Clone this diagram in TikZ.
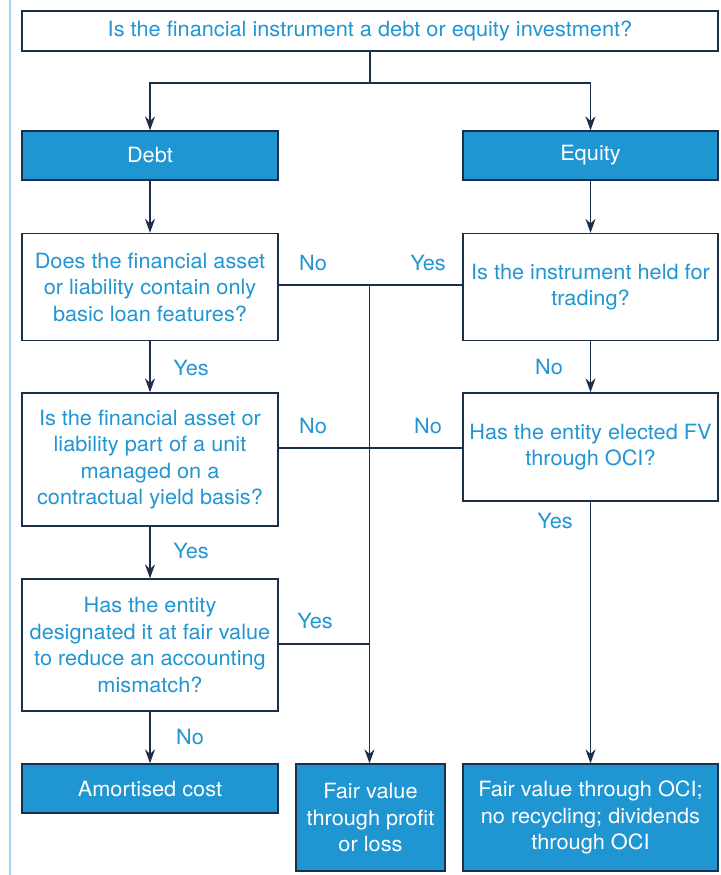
\documentclass[tikz,border=0pt]{standalone}
\usepackage{fontspec}
\setmainfont{TeX Gyre Heros}[FakeStretch=1.035]
\usetikzlibrary{arrows.meta}
\definecolor{navy}{HTML}{1B2F4D}
\definecolor{fillblue}{HTML}{1F95D2}
\definecolor{txtblue}{HTML}{2196D3}
\definecolor{sideblue}{HTML}{A6D2EE}
\tikzset{
  base/.style={draw=navy, line width=1.3pt, align=center, inner sep=2pt,
    font=\fontsize{21}{26.5}\selectfont},
  qbox/.style={base, fill=white, text=txtblue},
  rbox/.style={base, fill=fillblue, text=white},
  conn/.style={draw=navy, line width=1.3pt},
  arr/.style={conn, -{Stealth[length=14pt,width=10pt]}},
  lbl/.style={text=txtblue, font=\fontsize{21}{24}\selectfont, inner sep=0pt}
}
\begin{document}
\begin{tikzpicture}[x=1pt,y=-1pt]
\useasboundingbox (0,0) rectangle (720,875);
\fill[sideblue] (9,0) rectangle (11,875);

\node[qbox, minimum width=696pt, minimum height=40pt] (top) at (370,31) {Is the financial instrument a debt or equity investment?};
\node[rbox, minimum width=256pt, minimum height=49pt] (debt) at (150,155.5) {Debt};
\node[rbox, minimum width=255pt, minimum height=49pt] (equity) at (590.5,155.5) {Equity};
\node[qbox, minimum width=256pt, minimum height=107pt] (q1) at (150,287) {Does the financial asset\\or liability contain only\\basic loan features?};
\node[qbox, minimum width=255pt, minimum height=107pt] (e1) at (590.5,287) {Is the instrument held for\\trading?};
\node[qbox, minimum width=256pt, minimum height=133pt] (q2) at (150,459.5) {Is the financial asset or\\liability part of a unit\\managed on a\\contractual yield basis?};
\node[qbox, minimum width=255pt, minimum height=108pt] (e2) at (590.5,447) {Has the entity elected FV\\through OCI?};
\node[qbox, minimum width=256pt, minimum height=132pt] (q3) at (150,645) {Has the entity\\designated it at fair value\\to reduce an accounting\\mismatch?};
\node[rbox, minimum width=256pt, minimum height=49pt] (am) at (150,788.5) {Amortised cost};
\node[rbox, minimum width=149pt, minimum height=107pt] (fvpl) at (370.5,817.5) {Fair value\\through profit\\or loss};
\node[rbox, minimum width=255pt, minimum height=107pt] (fvoci) at (590.5,817.5) {Fair value through OCI;\\no recycling; dividends\\through OCI};

\coordinate (j0) at (370,83);
\coordinate (h1) at (369.5,285);
\coordinate (h2) at (369.5,448);
\coordinate (h3) at (369.5,644);

\draw[conn] (top.south) -- (j0);
\draw[arr] (j0) -| (debt.north);
\draw[arr] (j0) -| (equity.north);
\draw[arr] (debt) -- (q1);
\draw[arr] (equity) -- (e1);
\draw[arr] (q1) -- (q2);
\draw[arr] (q2) -- (q3);
\draw[arr] (q3) -- (am);
\draw[arr] (e1) -- (e2);
\draw[arr] (e2) -- (fvoci);
\draw[conn] (q1.east |- h1) -- (e1.west |- h1);
\draw[conn] (q2.east |- h2) -- (e2.west |- h2);
\draw[conn] (q3.east |- h3) -- (h3);
\draw[arr] (h1) -- (fvpl.north -| h1);

\node[lbl] (l1) at (313,263) {No};
\node[lbl] (l2) at (428,263) {Yes};
\node[lbl] (l3) at (191,368) {Yes};
\node[lbl] (l4) at (549,367) {No};
\node[lbl] (l5) at (313,426) {No};
\node[lbl] (l6) at (428,426) {No};
\node[lbl] (l7) at (191,551) {Yes};
\node[lbl] (l8) at (555,521) {Yes};
\node[lbl] (l9) at (315,621) {Yes};
\node[lbl] (l10) at (190,737) {No};
\end{tikzpicture}
\end{document}
